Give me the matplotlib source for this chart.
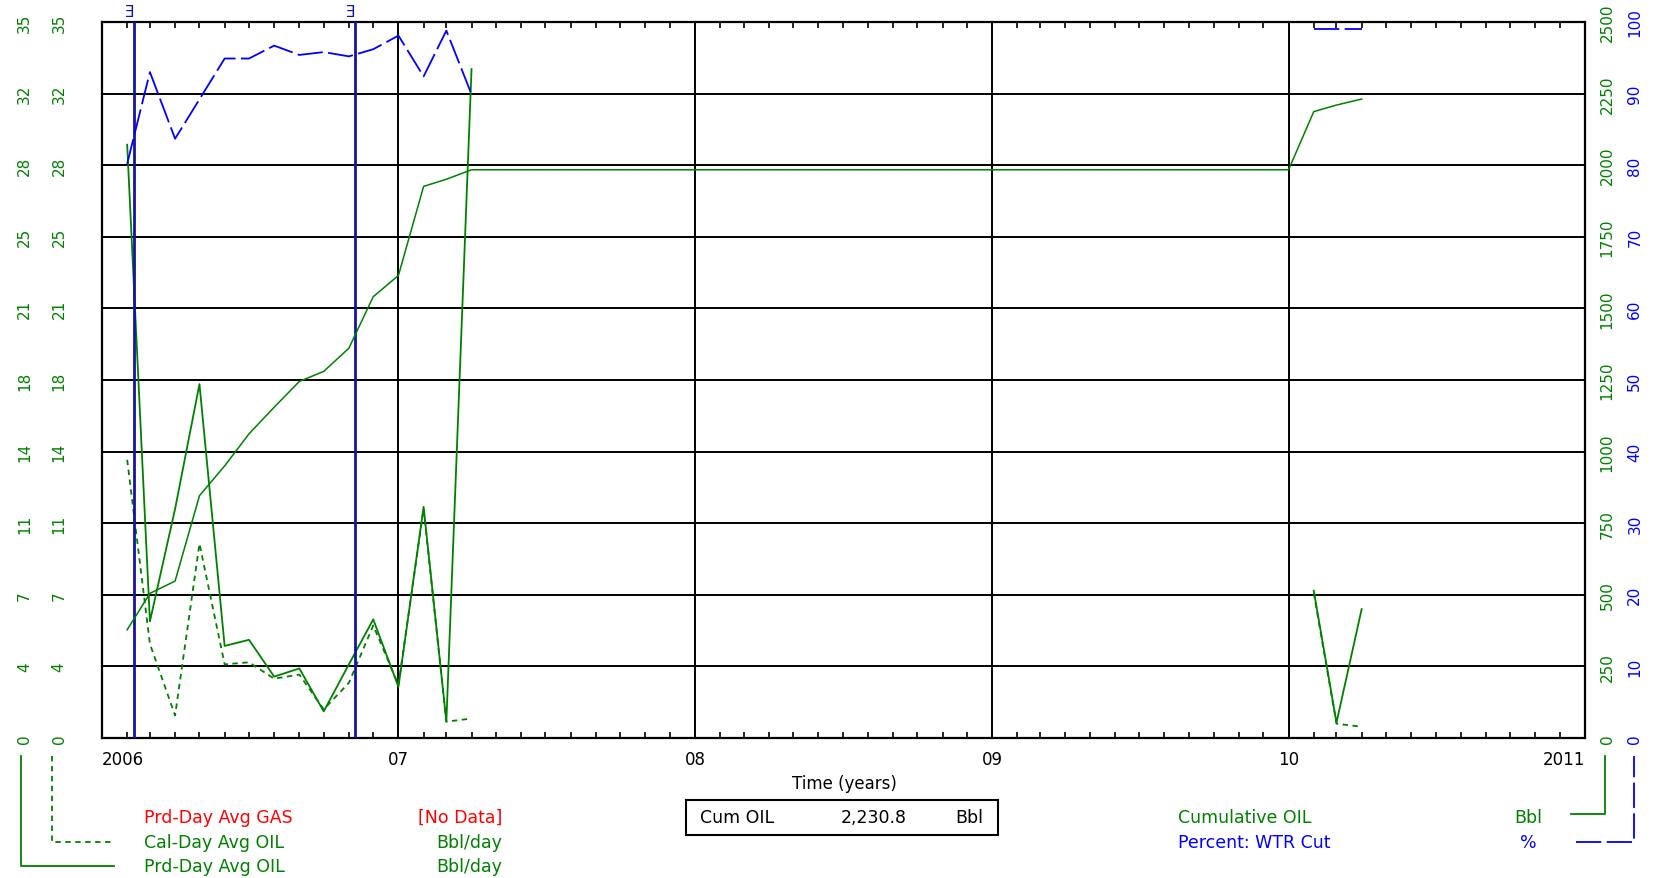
import numpy as np
import pandas as pd
import matplotlib
matplotlib.use("Agg")
import matplotlib.pyplot as plt
import matplotlib.dates as mdates
from matplotlib.lines import Line2D
from matplotlib.patches import Rectangle

# monthly data, two producing periods
months_a = ["2006-02-01", "2006-03-01", "2006-04-01", "2006-05-01", "2006-06-01",
            "2006-07-01", "2006-08-01", "2006-09-01", "2006-10-01", "2006-11-01",
            "2006-12-01", "2007-01-01", "2007-02-01", "2007-03-01", "2007-04-01"]
months_b = ["2010-02-01", "2010-03-01", "2010-04-01"]

prd_oil_a = [29.0, 5.7, 11.2, 17.3, 4.5, 4.8, 3.0, 3.4, 1.3, 3.6, 5.8, 2.5, 11.3, 0.8, 32.7]
prd_oil_b = [7.2, 0.75, 6.3]
cal_oil_a = [13.6, 4.6, 1.1, 9.5, 3.6, 3.7, 2.9, 3.1, 1.4, 2.7, 5.5, 2.6, 11.2, 0.8, 0.95]
cal_oil_b = [7.1, 0.7, 0.55]
wtr_a = [80.2, 93.0, 83.7, 89.2, 94.9, 94.9, 96.7, 95.4, 95.8, 95.2, 96.2, 98.1, 92.4, 98.8, 89.9]
wtr_b = [99.0, 99.0, 99.0]

cum_months = months_a + ["2010-01-01"] + months_b
cum_oil = [378, 505, 548, 846, 950, 1062, 1155, 1245, 1280, 1361, 1541, 1615, 1926, 1951, 1984,
           1984, 2187, 2210, 2231]

event_dates = ["2006-02-09", "2006-11-08"]

left_labels = ["0", "4", "7", "11", "14", "18", "21", "25", "28", "32", "35"]
cum_labels = ["0", "250", "500", "750", "1000", "1250", "1500", "1750", "2000", "2250", "2500"]
wtr_labels = ["0", "10", "20", "30", "40", "50", "60", "70", "80", "90", "100"]
year_labels = ["2006", "07", "08", "09", "10", "2011"]

GREEN = "#008000"
BLUE = "#0000ff"
NAVY = "#14149c"
RED = "#ff0000"

W, H = 1653, 879
def fx(p):
    return p / W
def fy(p):
    return 1 - p / H

plt.rcParams["font.family"] = ["DejaVu Sans"]
fig = plt.figure(figsize=(16.53, 8.79), dpi=100)
ax = fig.add_axes([fx(102), fy(739), fx(1585) - fx(102), fy(23) - fy(739)])

ma = pd.to_datetime(months_a)
mb = pd.to_datetime(months_b)
dash_cal = (0, (3, 2.5))
dash_wtr = (0, (14, 3))

for m, v in ((ma, prd_oil_a), (mb, prd_oil_b)):
    ax.plot(m, v, color=GREEN, lw=1.3)
for m, v in ((ma, cal_oil_a), (mb, cal_oil_b)):
    ax.plot(m, v, color=GREEN, lw=1.3, linestyle=dash_cal)

ax.set_xlim(pd.Timestamp("2006-01-01"), pd.Timestamp("2011-01-01"))
ax.set_ylim(0, 35)
ax.set_yticks(np.linspace(0, 35, 11))
ax.set_yticklabels(left_labels)
ax.xaxis.set_major_locator(mdates.YearLocator())
ax.xaxis.set_minor_locator(mdates.MonthLocator())
ax.set_xticklabels(year_labels)
ax.grid(True, which="major", color="black", lw=1.4)
ax.tick_params(axis="x", which="major", length=0, pad=9, labelsize=12)
ax.tick_params(axis="x", which="minor", direction="in", length=4, width=1.2,
               top=True, bottom=True)
ax.tick_params(axis="y", length=0, pad=25.5, labelsize=11, labelcolor=GREEN, labelrotation=90)
labs = ax.get_xticklabels()
labs[0].set_ha("left")
labs[-1].set_ha("right")
for lab in ax.get_yticklabels():
    lab.set_va("center")
for s in ax.spines.values():
    s.set_linewidth(1.6)

# second left column (calendar-day axis)
axl = ax.twinx()
axl.yaxis.tick_left()
axl.set_ylim(0, 35)
axl.set_yticks(np.linspace(0, 35, 11))
axl.set_yticklabels(left_labels)
axl.tick_params(axis="y", length=0, pad=50.5, labelsize=11, labelcolor=GREEN, labelrotation=90)
for lab in axl.get_yticklabels():
    lab.set_va("center")
for s in axl.spines.values():
    s.set_visible(False)

# cumulative oil
axc = ax.twinx()
axc.plot(pd.to_datetime(cum_months), cum_oil, color=GREEN, lw=1.1)
axc.set_ylim(0, 2500)
axc.set_yticks(np.linspace(0, 2500, 11))
axc.set_yticklabels(cum_labels)
axc.tick_params(axis="y", length=0, pad=10.5, labelsize=11, labelcolor=GREEN, labelrotation=90)
for lab in axc.get_yticklabels():
    lab.set_va("center")
for s in axc.spines.values():
    s.set_visible(False)

# water cut
axw = ax.twinx()
for m, v in ((ma, wtr_a), (mb, wtr_b)):
    axw.plot(m, v, color=BLUE, lw=1.3, linestyle=dash_wtr)
axw.set_ylim(0, 100)
axw.set_yticks(np.linspace(0, 100, 11))
axw.set_yticklabels(wtr_labels)
axw.tick_params(axis="y", length=0, pad=30.5, labelsize=11, labelcolor=BLUE, labelrotation=90)
for lab in axw.get_yticklabels():
    lab.set_va("center")
for s in axw.spines.values():
    s.set_visible(False)

# event markers
for d in pd.to_datetime(event_dates):
    ax.axvline(d, color=NAVY, lw=2.0, zorder=5)
    ax.text(d, 1.004, "Ǝ", transform=ax.get_xaxis_transform(), ha="right", va="bottom",
            color=NAVY, fontsize=11)

fig.text(fx(844), fy(784), "Time (years)", ha="center", va="center", fontsize=12)

# left legend
fig.add_artist(Line2D([fx(21), fx(21), fx(114)], [fy(757), fy(867), fy(867)],
                      transform=fig.transFigure, color=GREEN, lw=1.3))
fig.add_artist(Line2D([fx(52), fx(52), fx(114)], [fy(757), fy(843), fy(843)],
                      transform=fig.transFigure, color=GREEN, lw=1.3, linestyle=dash_cal))
leg_left = [("Prd-Day Avg GAS", "[No Data]", RED, 818),
            ("Cal-Day Avg OIL", "Bbl/day", GREEN, 843),
            ("Prd-Day Avg OIL", "Bbl/day", GREEN, 867)]
for name, unit, col, yy in leg_left:
    fig.text(fx(144), fy(yy), name, color=col, fontsize=12.5, ha="left", va="center")
    fig.text(fx(502), fy(yy), unit, color=col, fontsize=12.5, ha="right", va="center")

# cum box
fig.add_artist(Rectangle((fx(686), fy(836)), fx(998) - fx(686), fy(801) - fy(836),
                         transform=fig.transFigure, fill=False, edgecolor="black", lw=1.5))
fig.text(fx(700), fy(818), "Cum OIL", fontsize=12.5, ha="left", va="center")
fig.text(fx(907), fy(818), "2,230.8", fontsize=12.5, ha="right", va="center")
fig.text(fx(983), fy(818), "Bbl", fontsize=12.5, ha="right", va="center")

# right legend
fig.text(fx(1178), fy(818), "Cumulative OIL", color=GREEN, fontsize=12.5, ha="left", va="center")
fig.text(fx(1542), fy(818), "Bbl", color=GREEN, fontsize=12.5, ha="right", va="center")
fig.text(fx(1178), fy(843), "Percent: WTR Cut", color=BLUE, fontsize=12.5, ha="left", va="center")
fig.text(fx(1537), fy(843), "%", color=BLUE, fontsize=12.5, ha="right", va="center")
fig.add_artist(Line2D([fx(1571), fx(1605), fx(1605)], [fy(815), fy(815), fy(757)],
                      transform=fig.transFigure, color=GREEN, lw=1.3))
fig.add_artist(Line2D([fx(1576), fx(1634), fx(1634)], [fy(843), fy(843), fy(757)],
                      transform=fig.transFigure, color=BLUE, lw=1.3, linestyle=dash_wtr))

fig.savefig("out.png", dpi=100)
